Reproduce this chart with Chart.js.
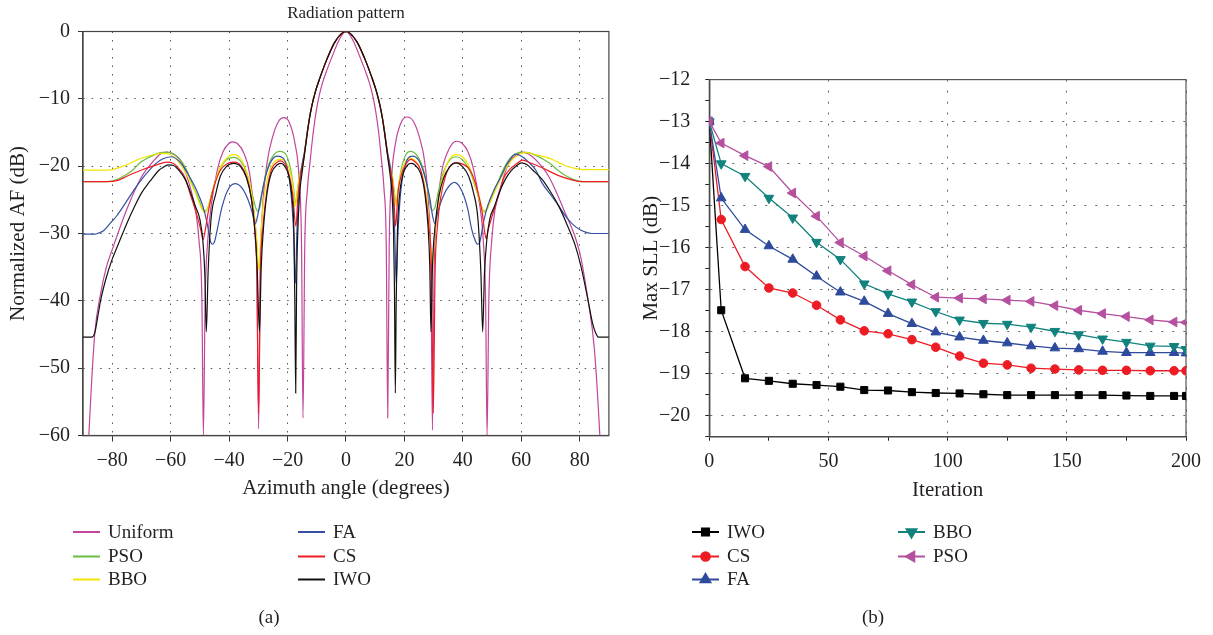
<!DOCTYPE html>
<html>
<head>
<meta charset="utf-8">
<title>Radiation pattern and convergence</title>
<script src="https://cdn.jsdelivr.net/npm/chart.js@4.4.1/dist/chart.umd.min.js"></script>
<style>
  html, body { margin: 0; padding: 0; background: #fff; }
  #wrap { position: relative; width: 1213px; height: 635px; overflow: hidden; }
  .panel { position: absolute; top: 0; }
  #panelA { left: 0; }
  #panelB { left: 612px; }
</style>
</head>
<body>
<div id="wrap">
  <div class="panel" id="panelA"><canvas id="patternChart" width="612" height="635"></canvas></div>
  <div class="panel" id="panelB"><canvas id="sllChart" width="601" height="635"></canvas></div>
</div>
<script>
/**
 * Figure: (a) radiation pattern, (b) max SLL vs iteration.
 * Values.
 */

// (a) [azimuth (deg), normalized AF (dB)]
const angleTicks = [-80, -60, -40, -20, 0, 20, 40, 60, 80];
const afTicks = [-60, -50, -40, -30, -20, -10, 0];

const uniformPts = [[-90,-80],[-88,-60],[-86,-45],[-84,-39],[-82,-35],[-80,-32.4],[-75,-26.4],[-70,-21.6],[-66,-19.3],[-63.5,-18.2],[-61.4,-17.9],[-59,-18.2],[-56,-19.6],[-53.4,-23],[-51.5,-26.5],[-50.3,-31],[-49.3,-40],[-48.8,-60],[-48.2,-40],[-47.3,-31],[-46,-25.5],[-44,-20.5],[-42,-17.8],[-40,-16.6],[-38.8,-16.4],[-37,-16.7],[-35,-18],[-33,-21],[-31.5,-27],[-30.5,-35],[-29.9,-59],[-29.3,-35],[-28.5,-26],[-27,-19.5],[-25,-15.5],[-23,-13.3],[-21.3,-12.8],[-19.5,-13.4],[-17.5,-16.5],[-16,-22],[-15.2,-32],[-14.7,-57.4],[-14.1,-32],[-13.2,-23.5],[-12.2,-19],[-11.2,-15],[-10.2,-11.9],[-9.2,-9.6],[-8,-7.6],[-6.5,-5.7],[-4.8,-3.8],[-2.5,-1.4],[0,0],
  [2.5,-1.4],[4.8,-3.8],[6.5,-5.7],[8,-7.6],[9.2,-9.6],[10.2,-11.9],[11.2,-15],[12.1,-18.8],[13,-23.2],[13.8,-32],[14.3,-57.4],[14.8,-32],[15.6,-22],[17,-16.5],[19,-13.4],[21,-12.7],[23,-13.3],[25,-15.5],[27,-19.5],[28.3,-26],[29.1,-35],[29.6,-59.2],[30.2,-35],[31.2,-27],[32.7,-21],[34.7,-18],[36.5,-16.6],[37.9,-16.3],[39.7,-16.6],[41.7,-17.8],[43.7,-20.5],[45.7,-25.5],[47,-31],[47.8,-40],[48.3,-60],[48.9,-40],[49.9,-31],[51,-26.5],[53,-23],[55.7,-19.6],[58.7,-18.2],[60.3,-17.9],[62.5,-18.2],[65.5,-19.3],[69.5,-21.6],[74.5,-26.4],[80,-32.8],[82.9,-40],[85,-47],[86.9,-60],[88.5,-75],[90,-82]];

const psoPts = [[-90,-22.3],[-81.5,-22.3],[-78.5,-22],[-76.2,-21.5],[-73,-20.6],[-70.5,-19.5],[-66,-18.4],[-63.5,-18],[-61.4,-17.9],[-59,-18.2],[-56.9,-18.9],[-54.5,-20.6],[-52.3,-23],[-50.5,-24.8],[-49.2,-26.2],[-48.3,-26.7],[-47.3,-26.2],[-45.8,-23.8],[-43.5,-20.8],[-41,-19.1],[-38.5,-18.7],[-36,-19.3],[-34,-21],[-32.3,-23.8],[-31,-26],[-30.3,-26.7],[-29.5,-26.2],[-28.5,-23.5],[-27,-20.5],[-25,-18.5],[-22.6,-17.8],[-20.5,-18.3],[-19,-20.3],[-18,-23],[-17.3,-25.5],[-16.6,-23.6],[-15.8,-21.2],[-15,-19.8],[-14.2,-17.9],[-13.2,-14.8],[-12.4,-12.6],[-11.6,-10.9],[-10.5,-9],[-9,-7],[-6.5,-4.1],[-3.7,-1.5],[0,0],
  [3.7,-1.5],[6.5,-4.1],[9,-7],[10.5,-9],[11.6,-10.9],[12.4,-12.6],[13.2,-14.8],[14.2,-17.9],[15,-19.8],[15.8,-21.2],[16.5,-23.6],[17.2,-25.5],[18,-23],[19,-20.3],[20.5,-18.3],[22,-17.8],[24.5,-18.5],[26.5,-20.5],[28,-23.5],[29,-26.2],[29.7,-26.6],[30.4,-26.2],[31.5,-24],[33.3,-21],[35.3,-19.2],[37.7,-18.6],[40,-19.1],[42.5,-20.8],[44.8,-23.8],[46.5,-26.2],[47.5,-26.7],[48.5,-26.2],[49.8,-24.8],[51.5,-23],[53.7,-20.6],[56,-18.9],[58.5,-18.1],[60,-17.9],[62.5,-18],[65,-18.4],[69.5,-19.5],[72.5,-20.6],[75.5,-21.5],[78,-22],[81,-22.3],[90,-22.3]];

const bboPts = [[-90,-20.6],[-81.5,-20.6],[-79,-20.4],[-76.2,-20],[-73,-19.4],[-70.5,-18.9],[-66,-18.3],[-62.6,-18.1],[-60,-18.3],[-58,-19],[-55.5,-20.5],[-53.4,-22.2],[-51.5,-24],[-50,-25.7],[-48.3,-26.9],[-47,-25.8],[-45.5,-23.5],[-43.5,-20.6],[-41,-18.9],[-38.5,-18.3],[-36,-18.9],[-34,-20.8],[-32.5,-23.5],[-31.3,-27.5],[-30.5,-31],[-29.8,-35.5],[-29.2,-31],[-28.4,-26],[-27,-22],[-25,-19.6],[-22.3,-19],[-20.5,-19.4],[-19,-21],[-18,-23.5],[-17.4,-26],[-16.7,-23.8],[-15.9,-21.6],[-15,-20.1],[-14.2,-18.1],[-13.2,-14.9],[-12.4,-12.6],[-11.6,-10.9],[-10.5,-9],[-9,-7],[-6.5,-4.1],[-3.7,-1.5],[0,0],
  [3.7,-1.5],[6.5,-4.1],[9,-7],[10.5,-9],[11.6,-10.9],[12.4,-12.6],[13.2,-14.9],[14.2,-18.1],[15,-20.1],[15.9,-21.6],[16.5,-23.8],[17.1,-25.9],[17.8,-23.5],[18.8,-21],[20.3,-19.4],[21.8,-18.8],[24.5,-19.6],[26.5,-22],[28,-26],[28.8,-31],[29.5,-35.5],[30.2,-31],[31,-27.5],[32.2,-23.5],[33.7,-20.8],[35.5,-18.9],[37.7,-18.3],[40.5,-18.9],[42.7,-20.6],[44.7,-23.5],[46.3,-25.8],[47.5,-26.9],[49,-25.7],[50.7,-24],[52.6,-22.2],[54.6,-20.5],[57,-19],[59,-18.3],[61.5,-18],[65,-18.3],[69.5,-18.8],[72,-19.3],[75,-19.9],[78,-20.3],[81,-20.5],[90,-20.5]];

const faPts = [[-90,-30.1],[-86,-30.1],[-84.5,-29.9],[-83,-29.6],[-80.5,-28.4],[-78.5,-27.4],[-75.5,-25.5],[-72.8,-23.7],[-70,-22],[-67.1,-20.5],[-64.5,-19.4],[-62.6,-18.9],[-59.7,-18.6],[-57.5,-19.1],[-55.7,-20],[-53.5,-21.6],[-51.2,-23.5],[-49,-25.9],[-47.5,-28.5],[-46.3,-31.3],[-45.6,-31.6],[-44.9,-31.1],[-44,-29.3],[-42.5,-26.2],[-40.5,-23.6],[-38,-22.6],[-35.5,-23.3],[-33.5,-25],[-32,-27],[-31.1,-28.6],[-30.3,-27.5],[-29,-24.5],[-27.5,-21.5],[-25.5,-19.2],[-23.5,-18.5],[-21.5,-18.8],[-20,-20.5],[-18.8,-24],[-17.9,-30],[-17.3,-37.4],[-16.8,-30],[-16.2,-24.6],[-15.5,-21.2],[-14.8,-19.2],[-14.2,-17.9],[-13.2,-14.8],[-12.4,-12.6],[-11.6,-10.9],[-10.5,-9],[-9,-7],[-6.5,-4.1],[-3.7,-1.5],[0,0],
  [3.7,-1.5],[6.5,-4.1],[9,-7],[10.5,-9],[11.6,-10.9],[12.4,-12.6],[13.2,-14.8],[14.2,-17.9],[14.8,-19.2],[15.5,-21.2],[16.2,-24.6],[16.7,-30],[17.2,-37.4],[17.8,-30],[18.7,-24],[19.9,-20.5],[21.3,-18.8],[22.8,-18.5],[25,-19.2],[27,-21.5],[28.6,-24.5],[29.7,-27.5],[30.4,-28.5],[31.3,-27],[32.8,-25],[34.7,-23.3],[37.1,-22.4],[39.6,-23.6],[41.6,-26.2],[43,-29.3],[44.3,-31.1],[45.1,-31.6],[45.8,-31.3],[47,-28.5],[48.5,-25.9],[50.7,-23.5],[53,-21.6],[55,-19.8],[56.7,-18.7],[57.8,-18.2],[60,-18.5],[62.5,-19.4],[65,-20.6],[67,-22.4],[70,-24.2],[72.8,-25.9],[75.5,-27.6],[78,-28.8],[80,-29.4],[82,-29.8],[84.2,-30],[90,-30]];

const csPts = [[-90,-22.3],[-82,-22.3],[-78,-22.1],[-75,-21.5],[-69.5,-20.5],[-64.8,-19.8],[-61.4,-19.4],[-59,-19.6],[-56.9,-20.5],[-55,-21.8],[-53.4,-24],[-50.6,-27.9],[-49.5,-29.8],[-48.9,-30.9],[-48.2,-29.6],[-47,-26.5],[-45,-22.8],[-43,-20.6],[-40.5,-19.6],[-38.2,-19.4],[-36,-19.9],[-34,-21.6],[-32.5,-24.5],[-31.3,-29],[-30.5,-36],[-29.9,-56.7],[-29.3,-36],[-28.4,-29],[-27,-23.5],[-25.5,-20.5],[-23.5,-19.4],[-22.4,-19.2],[-21,-19.6],[-19.5,-21.2],[-18.3,-24],[-17.1,-28.9],[-16.5,-25],[-15.8,-22],[-15,-20.3],[-14.2,-18.2],[-13.2,-15],[-12.4,-12.7],[-11.6,-10.9],[-10.5,-9],[-9,-7],[-6.5,-4.1],[-3.7,-1.5],[0,0],
  [3.7,-1.5],[6.5,-4.1],[9,-7],[10.5,-9],[11.6,-10.9],[12.4,-12.7],[13.2,-15],[14.2,-18.2],[15,-20.3],[15.8,-22],[16.4,-25],[17,-28.9],[17.8,-24],[19,-21.2],[20.7,-19.6],[22.2,-19],[23.5,-19.3],[25.5,-20.5],[27,-23.5],[28.4,-29],[29.3,-36],[29.9,-56.7],[30.5,-36],[31.3,-29],[32.5,-24.5],[34,-21.6],[35.8,-19.9],[37.7,-19.5],[40,-19.7],[42.5,-20.6],[44.5,-22.8],[46.5,-26.5],[47.5,-29.8],[48,-30.8],[48.6,-29.6],[49.7,-27.9],[52.5,-24],[54,-21.8],[56,-20.5],[58.5,-19.6],[60.5,-19.1],[63,-19.5],[67,-20.2],[72.8,-21.4],[78,-22.1],[81,-22.3],[90,-22.3]];

const iwoPts = [[-90,-45.4],[-87,-45.4],[-86,-44.8],[-85,-42.5],[-84,-40],[-82,-36.5],[-80,-33.8],[-78.5,-32.2],[-75,-28.5],[-72.8,-26.4],[-70,-24],[-67,-22.2],[-64,-20.6],[-62.6,-20.2],[-60.9,-19.8],[-59,-19.9],[-57,-20.7],[-55,-22],[-53.4,-23.7],[-51.5,-26],[-50,-27.9],[-49,-31],[-48.3,-36],[-47.8,-44.6],[-47.2,-36],[-46.2,-28],[-44.5,-24],[-43,-21.5],[-41,-20.1],[-38.5,-19.6],[-36,-20.1],[-34,-21.8],[-32.5,-24.5],[-31.3,-29],[-30.4,-35],[-29.6,-44.6],[-29,-35],[-28.2,-29],[-27,-24],[-25.5,-21],[-23.5,-19.8],[-22.2,-19.6],[-21,-20],[-19.5,-21.5],[-18.5,-24.5],[-17.8,-30],[-17.5,-40],[-17.2,-53.7],[-16.9,-38],[-16.5,-30],[-15.9,-24.4],[-15,-20.9],[-14.2,-18.3],[-13.2,-15],[-12.4,-12.7],[-11.6,-10.9],[-10.5,-9],[-9,-7],[-6.5,-4.1],[-3.7,-1.5],[0,0],
  [3.7,-1.5],[6.5,-4.1],[9,-7],[10.5,-9],[11.6,-10.9],[12.4,-12.7],[13.2,-15],[14.2,-18.3],[15,-20.9],[15.8,-24.4],[16.3,-30],[16.6,-38],[16.9,-53.7],[17.2,-40],[17.6,-30],[18.3,-24.5],[19.3,-21.5],[20.8,-20],[22.2,-19.6],[23.5,-19.8],[25.5,-21],[27,-24],[28.1,-29],[28.7,-35],[29.1,-44.6],[29.6,-35],[30.5,-29],[31.8,-24.5],[33.4,-21.8],[35.5,-20.1],[37.7,-19.5],[40,-20.1],[42,-21.5],[43.7,-24],[45.2,-28],[46.2,-36],[46.8,-44.6],[47.4,-36],[48.2,-31],[49.2,-27.9],[50.8,-26],[52.7,-23.7],[54.5,-22],[56.5,-20.7],[58.5,-19.9],[60.1,-19.5],[62,-19.8],[64,-20.6],[67,-21.9],[70,-23.8],[72.8,-25.9],[75.5,-28.5],[78.5,-31.8],[80.5,-35],[82.9,-40],[84.5,-43.5],[85.5,-44.8],[86.4,-45.4],[90,-45.4]];

// (b) max side lobe level per iteration
const iterations = [0, 5, 15, 25, 35, 45, 55, 65, 75, 85, 95, 105, 115, 125, 135, 145, 155, 165, 175, 185, 195, 200];
const iwoSll = [-13, -17.49, -19.11, -19.17, -19.24, -19.27, -19.31, -19.39, -19.40, -19.44, -19.46, -19.47, -19.49, -19.51, -19.51, -19.51, -19.51, -19.51, -19.52, -19.53, -19.53, -19.53];
const csSll  = [-13, -15.33, -16.45, -16.96, -17.08, -17.37, -17.72, -17.98, -18.05, -18.19, -18.37, -18.58, -18.75, -18.79, -18.87, -18.89, -18.91, -18.92, -18.92, -18.93, -18.93, -18.93];
const faSll  = [-13, -14.82, -15.57, -15.96, -16.28, -16.68, -17.06, -17.28, -17.57, -17.81, -18.01, -18.13, -18.21, -18.27, -18.34, -18.39, -18.41, -18.47, -18.50, -18.50, -18.50, -18.51];
const bboSll = [-13, -14.0, -14.30, -14.82, -15.29, -15.87, -16.28, -16.86, -17.10, -17.29, -17.52, -17.72, -17.80, -17.82, -17.89, -17.99, -18.07, -18.17, -18.25, -18.34, -18.35, -18.42];
const psoSll = [-13, -13.51, -13.81, -14.07, -14.70, -15.25, -15.88, -16.20, -16.55, -16.88, -17.18, -17.20, -17.22, -17.25, -17.28, -17.38, -17.49, -17.57, -17.64, -17.72, -17.77, -17.78];

const FONT = '"Liberation Serif", "Times New Roman", serif';
const INK = '#231f20';
Chart.defaults.font.family = FONT;
Chart.defaults.color = INK;

const minus = v => (v < 0 ? '\u2212' + Math.abs(v) : String(v));
const toXY = pts => pts.map(([x, y]) => ({ x, y }));
const isInt = v => Math.abs(v - Math.round(v)) < 1e-6;

// box around the plot area
const frameBox = {
    id: 'frameBox',
    beforeDatasetsDraw(chart, args, opts) {
        const { ctx, chartArea: a } = chart;
        ctx.save();
        ctx.strokeStyle = opts.color;
        ctx.lineWidth = opts.width;
        ctx.strokeRect(a.left, a.top, a.right - a.left, a.bottom - a.top);
        ctx.restore();
    }
};

// title, two-column key and panel caption
const figureKey = {
    id: 'figureKey',
    afterDraw(chart, args, opts) {
        const { ctx, chartArea: a } = chart;
        ctx.save();
        ctx.fillStyle = INK;
        ctx.textBaseline = 'middle';
        if (opts.title) {
            ctx.font = `17px ${FONT}`;
            ctx.textAlign = 'center';
            ctx.fillText(opts.title, (a.left + a.right) / 2, 14);
        }
        ctx.font = `19px ${FONT}`;
        ctx.textAlign = 'left';
        opts.items.forEach(item => {
            const ds = chart.data.datasets.find(d => d.label === item.label);
            ctx.strokeStyle = ds.borderColor;
            ctx.lineWidth = 2;
            ctx.beginPath();
            ctx.moveTo(item.x, item.y);
            ctx.lineTo(item.x + 27, item.y);
            ctx.stroke();
            if (ds.pointRadius > 0) {
                ctx.fillStyle = ds.pointBackgroundColor;
                Chart.helpers.drawPoint(ctx, {
                    pointStyle: ds.pointStyle, rotation: ds.pointRotation || 0,
                    radius: ds.pointRadius, borderWidth: 1
                }, item.x + 13.5, item.y);
            }
            ctx.fillStyle = INK;
            ctx.fillText(item.label, item.x + 35, item.y + 1);
        });
        ctx.textAlign = 'center';
        ctx.fillText(opts.caption, opts.captionX, 618);
        ctx.restore();
    }
};

function lineSet(label, pts, color) {
    return {
        label, data: toXY(pts), borderColor: color, backgroundColor: color,
        borderWidth: 1.2, pointRadius: 0, cubicInterpolationMode: 'monotone'
    };
}

new Chart(document.getElementById('patternChart'), {
    type: 'line',
    data: {
        datasets: [
            lineSet('IWO', iwoPts, '#111111'),
            lineSet('CS', csPts, '#ed1c24'),
            lineSet('FA', faPts, '#3550a3'),
            lineSet('BBO', bboPts, '#f2e500'),
            lineSet('PSO', psoPts, '#6bbd45'),
            lineSet('Uniform', uniformPts, '#c2449b')
        ]
    },
    plugins: [frameBox, figureKey],
    options: {
        responsive: false,
        animation: false,
        layout: { padding: { left: 0, right: 3.1, top: 31.5, bottom: 129.5 } },
        plugins: {
            legend: { display: false },
            tooltip: { enabled: false },
            frameBox: { color: '#444', width: 1.2 },
            figureKey: {
                title: 'Radiation pattern',
                caption: '(a)', captionX: 269,
                items: [
                    { label: 'Uniform', x: 73, y: 532 },
                    { label: 'PSO', x: 73, y: 556.5 },
                    { label: 'BBO', x: 73, y: 579.5 },
                    { label: 'FA', x: 298, y: 532 },
                    { label: 'CS', x: 298, y: 556.5 },
                    { label: 'IWO', x: 298, y: 579.5 }
                ]
            }
        },
        scales: {
            x: {
                type: 'linear', min: -90, max: 90,
                afterFit: s => { s.height = 70; },
                afterBuildTicks: s => { s.ticks = angleTicks.map(value => ({ value })); },
                ticks: { padding: 7, font: { size: 20 }, maxRotation: 0, autoSkip: false, callback: minus },
                grid: { color: '#555', tickColor: '#333', tickLength: 6, tickBorderDash: [] },
                border: { color: '#444', width: 1.2, dash: [1.5, 7] },
                title: { display: true, text: 'Azimuth angle (degrees)', font: { size: 21 }, padding: { top: 0, bottom: 4 } }
            },
            y: {
                min: -60, max: 0,
                afterFit: s => { s.width = 83; },
                afterBuildTicks: s => { s.ticks = afTicks.map(value => ({ value })); },
                ticks: { padding: 8, font: { size: 20 }, callback: minus },
                grid: { color: '#555', tickColor: '#333', tickLength: 5, tickBorderDash: [] },
                border: { color: '#444', width: 1.2, dash: [1.5, 7] },
                title: { display: true, text: 'Normalized AF (dB)', font: { size: 21 }, padding: { top: 5.5, bottom: 0 } }
            }
        }
    }
});

function markSet(label, values, color, pointStyle, rotation, radius) {
    return {
        label, data: values, borderColor: color, backgroundColor: color,
        pointBackgroundColor: color, pointBorderColor: color,
        pointStyle, pointRotation: rotation, pointRadius: radius, pointBorderWidth: 1,
        borderWidth: 1.3
    };
}

new Chart(document.getElementById('sllChart'), {
    type: 'line',
    data: {
        labels: iterations,
        datasets: [
            markSet('PSO', psoSll, '#b5509f', 'triangle', -90, 5.6),
            markSet('BBO', bboSll, '#11827e', 'triangle', 180, 5.6),
            markSet('FA', faSll, '#2e4a9d', 'triangle', 0, 5.6),
            markSet('CS', csSll, '#ed1c24', 'circle', 0, 4.3),
            markSet('IWO', iwoSll, '#000000', 'rect', 0, 5)
        ]
    },
    plugins: [frameBox, figureKey],
    options: {
        responsive: false,
        animation: false,
        layout: { padding: { left: 0, right: 27, top: 79.6, bottom: 128.3 } },
        plugins: {
            legend: { display: false },
            tooltip: { enabled: false },
            frameBox: { color: '#555', width: 1.2 },
            figureKey: {
                caption: '(b)', captionX: 261,
                items: [
                    { label: 'IWO', x: 80, y: 532 },
                    { label: 'CS', x: 80, y: 556.5 },
                    { label: 'FA', x: 80, y: 579.5 },
                    { label: 'BBO', x: 286, y: 532 },
                    { label: 'PSO', x: 286, y: 556.5 }
                ]
            }
        },
        scales: {
            x: {
                type: 'linear', min: 0, max: 200,
                afterFit: s => { s.height = 70; },
                ticks: {
                    stepSize: 25, padding: 9, font: { size: 20 }, maxRotation: 0, autoSkip: false,
                    callback: v => (v % 50 === 0 ? String(v) : '')
                },
                grid: {
                    color: c => (c.tick && c.tick.value % 50 === 0 ? '#666' : 'rgba(0,0,0,0)'),
                    tickColor: '#222', tickLength: 4, tickBorderDash: []
                },
                border: { color: '#000', width: 1.3, dash: [2, 9] },
                title: { display: true, text: 'Iteration', font: { size: 21 }, padding: { top: 0, bottom: 4 } }
            },
            y: {
                min: -20.5, max: -12,
                afterFit: s => { s.width = 97.3; },
                ticks: {
                    stepSize: 0.5, padding: 15, font: { size: 20 }, autoSkip: false,
                    callback: v => (isInt(v) ? minus(Math.round(v)) : '')
                },
                grid: {
                    color: c => (c.tick && isInt(c.tick.value) ? '#666' : 'rgba(0,0,0,0)'),
                    tickColor: '#222', tickLength: 4, tickBorderDash: []
                },
                border: { color: '#000', width: 1.3, dash: [2, 9] },
                title: { display: true, text: 'Max SLL (dB)', font: { size: 21 }, padding: { top: 26.5, bottom: 0 } }
            }
        }
    }
});
</script>
</body>
</html>
